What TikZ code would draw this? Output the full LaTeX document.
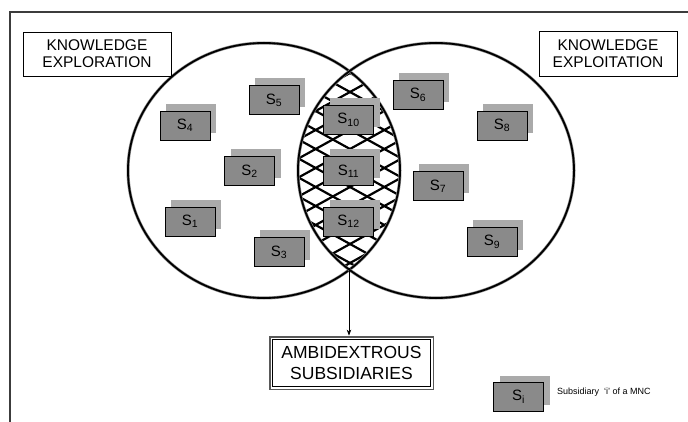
\documentclass[tikz,border=0pt]{standalone}
\usepackage{fontspec}
\setmainfont{Liberation Sans}
\usetikzlibrary{shadows,arrows.meta,calc}
\definecolor{boxfront}{RGB}{138,138,138}
\definecolor{boxback}{RGB}{170,170,170}
\definecolor{ringgray}{RGB}{140,140,140}
\definecolor{framegray}{RGB}{60,60,60}
\begin{document}
\begin{tikzpicture}[x=1pt,y=-1pt,
  sub/.style={draw=black, line width=0.9pt, fill=boxfront, minimum width=50pt,
    minimum height=29pt, inner sep=0pt, font=\fontsize{15}{17}\selectfont,
    copy shadow={shadow xshift=6pt, shadow yshift=7pt, fill=boxback, draw=none}},
  lbox/.style={draw=black, line width=0.8pt, align=center, inner sep=0pt,
    font=\fontsize{15.5}{17}\selectfont},
  ring/.style={draw=ringgray, double=black, double distance=1.8pt, line width=0.6pt},
  hatch/.style={draw=black, line width=2.2pt},
  frame/.style={draw=framegray, line width=1.4pt},
  conn/.style={draw=black, line width=0.7pt, -{Stealth[length=6pt,width=4.5pt]}}
]
\useasboundingbox (0,0) rectangle (688,422);
\fill[white] (0,0) rectangle (688,422);

% outer frame (top and left edges)
\draw[frame] (10,422) -- (10,12) -- (688,12);

% cross-hatched intersection
\begin{scope}
  \clip (264,170.5) ellipse [x radius=136, y radius=127.5];
  \clip (436,170.5) ellipse [x radius=138, y radius=127.5];
  \foreach \k in {-4,...,15} {
    \draw[hatch] (290, 73+\k*19-33.2) -- (410, 73+\k*19+33.2);
    \draw[hatch] (290, 73+\k*19+33.2) -- (410, 73+\k*19-33.2);
  }
\end{scope}

% circles
\draw[ring] (264,170.5) ellipse [x radius=136, y radius=127.5];
\draw[ring] (436,170.5) ellipse [x radius=138, y radius=127.5];

% labels
\node[lbox, minimum width=148pt, minimum height=44pt] (explor) at (97,54)
  {KNOWLEDGE\\EXPLORATION};
\node[lbox, minimum width=138pt, minimum height=45pt] (exploit) at (608,53.5)
  {KNOWLEDGE\\EXPLOITATION};

% subsidiaries
\node[sub] (s4) at (185,125.5) {S\textsubscript{4}};
\node[sub] (s5) at (274,100) {S\textsubscript{5}};
\node[sub] (s2) at (249.5,171) {S\textsubscript{2}};
\node[sub] (s1) at (190,221.5) {S\textsubscript{1}};
\node[sub] (s3) at (279,252) {S\textsubscript{3}};
\node[sub] (s10) at (348.5,120) {S\textsubscript{10}};
\node[sub] (s11) at (348.5,171) {S\textsubscript{11}};
\node[sub] (s12) at (348.5,221.5) {S\textsubscript{12}};
\node[sub] (s6) at (418,95) {S\textsubscript{6}};
\node[sub] (s8) at (502,125.5) {S\textsubscript{8}};
\node[sub] (s7) at (438,186) {S\textsubscript{7}};
\node[sub] (s9) at (492,242) {S\textsubscript{9}};

% ambidextrous box
\node[draw=black, line width=0.6pt, align=center, inner sep=0pt,
  minimum width=158pt, minimum height=47pt,
  font=\fontsize{17.5}{21}\selectfont] (amb) at (351.5,363)
  {AMBIDEXTROUS\\SUBSIDIARIES};
\draw[draw=gray!70!black, line width=1.8pt]
  ($(amb.north west)+(-2.6,-2.6)$) rectangle ($(amb.south east)+(2.6,2.6)$);

\coordinate (lensbot) at (349,268);
\draw[conn] (lensbot) -- ($(amb.north)+(-2.5,-3.6)$);

% legend
\node[sub] (si) at (518.5,397) {S\textsubscript{i}};
\node[anchor=west, inner sep=0pt, font=\fontsize{9}{10}\selectfont] (legtxt) at (557,392)
  {Subsidiary \ `i' of a MNC};
\end{tikzpicture}
\end{document}
